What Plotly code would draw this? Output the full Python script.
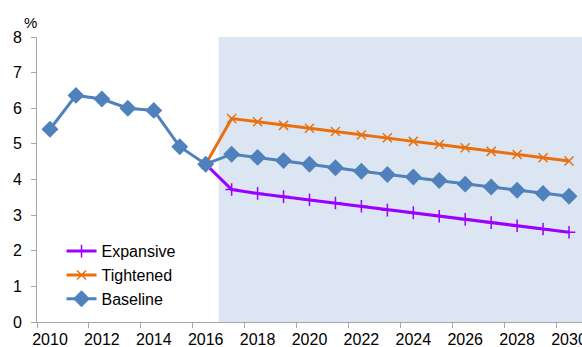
import plotly.graph_objects as go

# Years shown on the category-style axis
years = list(range(2010, 2031))
hist_years = list(range(2010, 2017))
proj_years = list(range(2016, 2031))

# Historical path (shared by all scenarios up to 2016)
baseline_hist = [5.41, 6.36, 6.26, 6.00, 5.94, 4.92, 4.43]

# Projection paths, each starting from the 2016 value
baseline_proj = [4.43, 4.71, 4.62, 4.53, 4.43, 4.33, 4.23, 4.14, 4.07, 3.97,
                 3.87, 3.79, 3.70, 3.61, 3.53]
expansive_proj = [4.43, 3.72, 3.61, 3.52, 3.43, 3.34, 3.25, 3.14, 3.07, 2.97,
                  2.88, 2.79, 2.70, 2.61, 2.52]
tightened_proj = [4.43, 5.71, 5.62, 5.52, 5.44, 5.35, 5.25, 5.17, 5.07, 4.98,
                  4.89, 4.79, 4.70, 4.61, 4.52]

# Projection period shading bounds
shade_start, shade_end = 2016.5, 2030.5

label_years = list(range(2010, 2031, 2))
tick_bounds = [y - 0.5 for y in range(2010, 2032, 2)]

purple = "#9B00FF"
orange = "#E8700F"
blue = "#4F81BD"
shade = "#DCE6F2"
axis_grey = "#A6A6A6"
font_family = "Liberation Sans, Arial, sans-serif"

fig = go.Figure()

fig.add_trace(go.Scatter(
    x=proj_years, y=expansive_proj, name="Expansive", mode="lines+markers",
    line=dict(color=purple, width=3),
    marker=dict(symbol="cross-thin-open", size=9, line=dict(color=purple, width=1.5)),
))
fig.add_trace(go.Scatter(
    x=proj_years, y=tightened_proj, name="Tightened", mode="lines+markers",
    line=dict(color=orange, width=3),
    marker=dict(symbol="x-thin-open", size=9, line=dict(color=orange, width=1.5)),
))
fig.add_trace(go.Scatter(
    x=hist_years + proj_years[1:], y=baseline_hist + baseline_proj[1:],
    name="Baseline", mode="lines+markers",
    line=dict(color=blue, width=3),
    marker=dict(symbol="diamond", size=13, color=blue),
))

fig.add_shape(type="rect", xref="x", yref="y", x0=shade_start, x1=shade_end,
              y0=0, y1=8, fillcolor=shade, line=dict(width=0), layer="below")

# Tick marks sit on category boundaries; labels sit on the categories
fig.update_layout(
    width=582, height=347,
    margin=dict(l=37, r=0, t=37, b=25, autoexpand=False),
    paper_bgcolor="white", plot_bgcolor="white",
    font=dict(family=font_family, size=16, color="#000000"),
    showlegend=True,
    legend=dict(x=0.045, y=0.308, xanchor="left", yanchor="top",
                bgcolor="rgba(0,0,0,0)", font=dict(size=16),
                tracegroupgap=0, itemwidth=30),
    xaxis=dict(
        range=[2009.5, 2030.5], tickmode="array", tickvals=label_years,
        ticktext=[str(y) for y in label_years], ticks="",
        ticklabeloverflow="allow", ticklabelstandoff=3, automargin=False,
        showgrid=False, zeroline=False, showline=True,
        linecolor=axis_grey, linewidth=1,
    ),
    xaxis2=dict(
        range=[2009.5, 2030.5], overlaying="x", side="bottom", anchor="y",
        tickmode="array", tickvals=tick_bounds, ticks="outside", ticklen=5,
        tickcolor=axis_grey, showticklabels=False, showgrid=False,
        zeroline=False, showline=False, automargin=False,
    ),
    yaxis=dict(
        range=[0, 8], tickmode="linear", tick0=0, dtick=1,
        ticks="outside", ticklen=5, tickcolor=axis_grey,
        showgrid=False, zeroline=False, showline=True, automargin=False,
        linecolor=axis_grey, linewidth=1, ticklabelstandoff=6,
    ),
    annotations=[dict(text="%", xref="paper", yref="paper", x=0, y=1,
                      xanchor="right", yanchor="middle", xshift=2, yshift=15,
                      showarrow=False, font=dict(size=15))],
)

# An invisible trace binds the tick-mark axis so it is drawn
fig.add_trace(go.Scatter(x=[2009.5], y=[0], xaxis="x2", mode="markers",
                         marker=dict(opacity=0), showlegend=False, hoverinfo="skip"))

fig.write_html("out.html")
